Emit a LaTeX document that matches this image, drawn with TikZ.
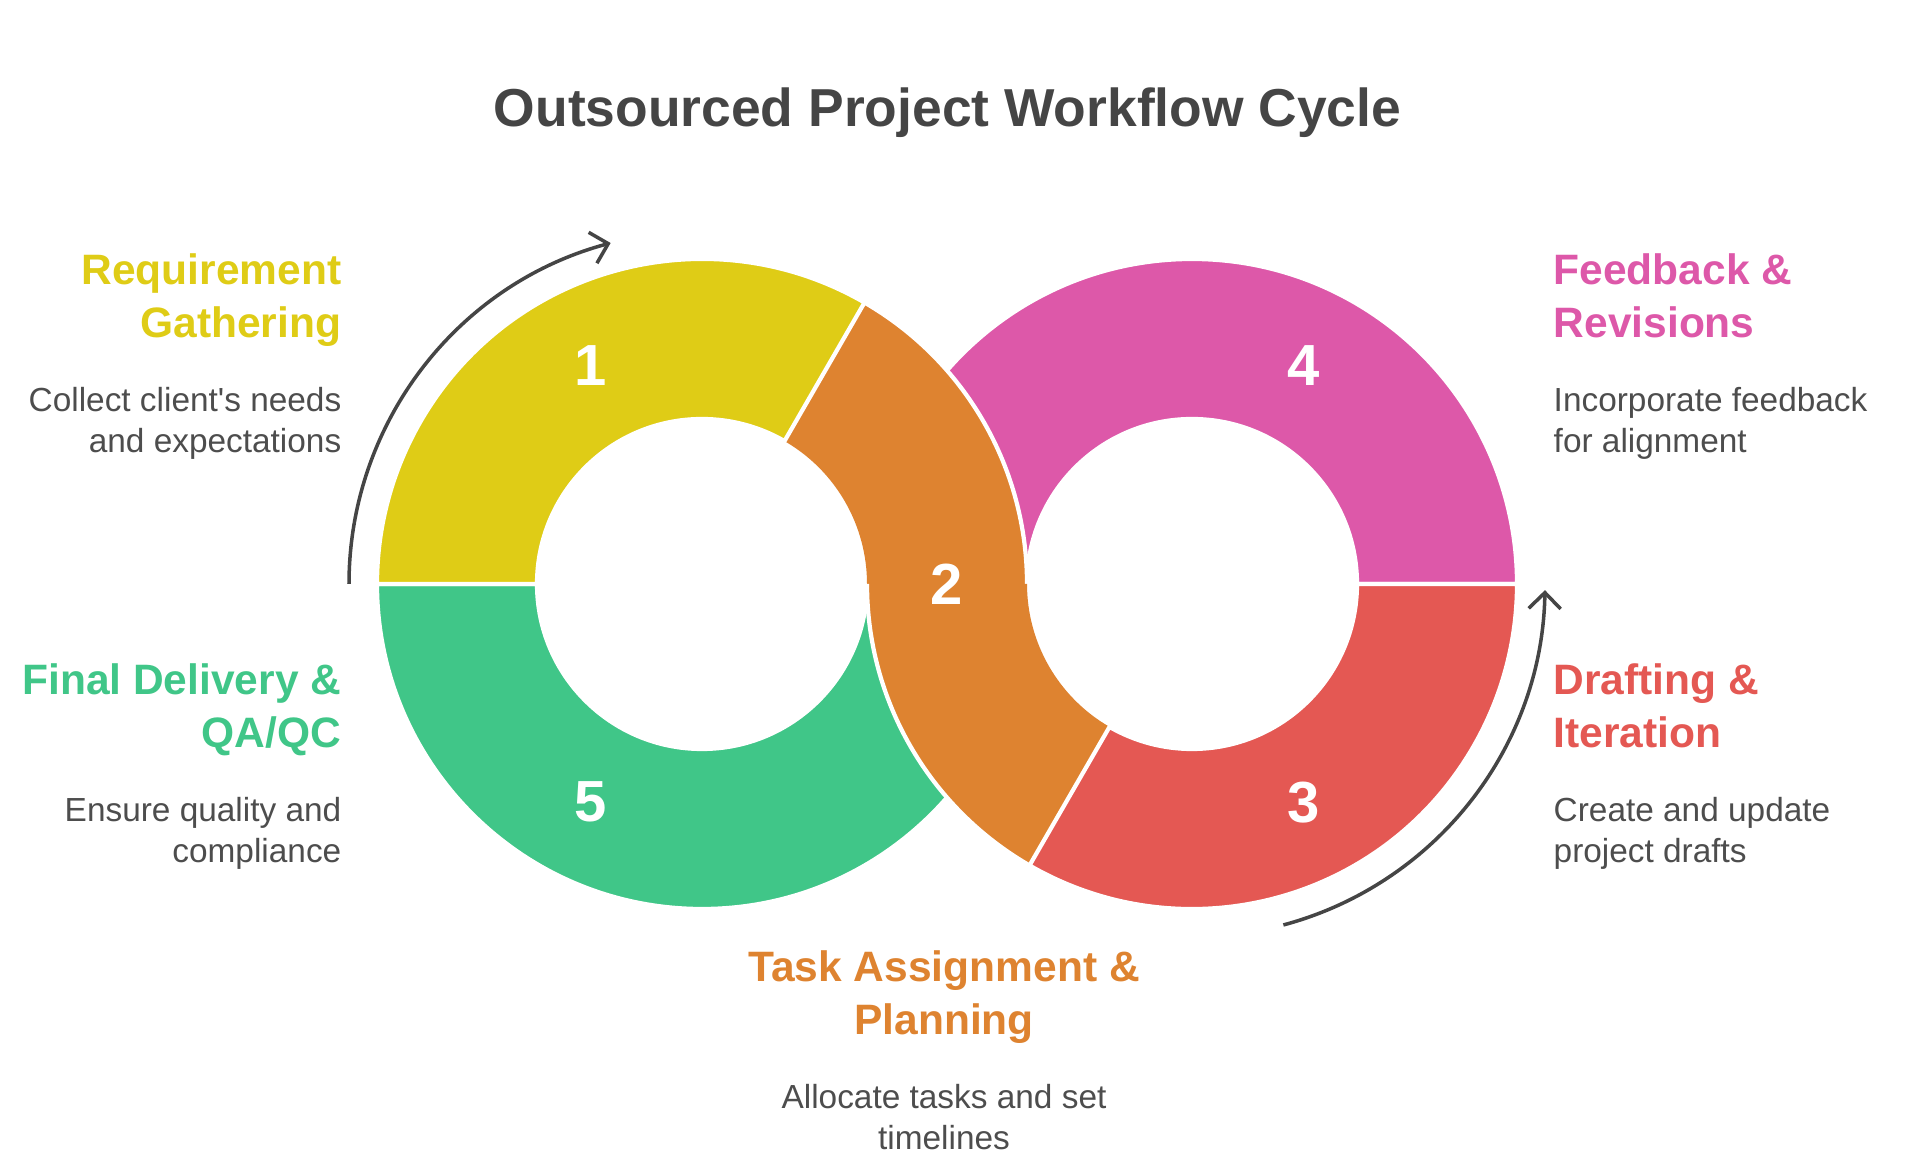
\documentclass[tikz,border=0pt]{standalone}
\usepackage{fontspec}
\setmainfont{Liberation Sans}
\usetikzlibrary{arrows.meta,calc}
\definecolor{segyellow}{HTML}{DFCC16}
\definecolor{segorange}{HTML}{DE8330}
\definecolor{segpink}{HTML}{DD58A9}
\definecolor{segred}{HTML}{E45853}
\definecolor{seggreen}{HTML}{40C688}
\definecolor{txtgray}{HTML}{4D4D4D}
\definecolor{titlegray}{HTML}{454545}
\begin{document}
\begin{tikzpicture}[%
% common options for the ring pieces:
seg/.style = {draw=white, line width=1.2pt, line join=round},
% common options for the texts:
head/.style = {inner sep=0, font=\fontsize{12.1}{15}\selectfont\bfseries},
desc/.style = {inner sep=0, text=txtgray, font=\fontsize{9.5}{11.7}\selectfont},
num/.style = {text=white, font=\fontsize{16.5}{18}\selectfont\bfseries},
% the two round arrows:
cyc/.style = {draw=titlegray, line width=1pt, -{Straight Barb[length=1.6mm,width=3.2mm]}}]
\useasboundingbox (0,0) rectangle (19.17,11.61);
\coordinate (lc) at (7.02,5.77);
\coordinate (rc) at (11.92,5.77);
% pink and green first, the orange band lies over them
\begin{scope}[shift={(rc)}]
\path[seg, fill=segpink] (0:3.25) arc[start angle=0, end angle=180, radius=3.25] -- (180:1.65) arc[start angle=180, end angle=0, radius=1.65] -- cycle;
\end{scope}
\begin{scope}[shift={(lc)}]
\path[seg, fill=seggreen] (180:3.25) arc[start angle=180, end angle=360, radius=3.25] -- (0:1.65) arc[start angle=360, end angle=180, radius=1.65] -- cycle;
\end{scope}
% orange band, two pieces
\begin{scope}[shift={(lc)}]
\fill[segorange] (0:1.65) -- (0:3.25) arc[start angle=0, end angle=60, radius=3.25] -- (60:1.65) arc[start angle=60, end angle=0, radius=1.65] -- cycle;
\draw[white, line width=1.2pt] (0:3.25) arc[start angle=0, end angle=60, radius=3.25];
\end{scope}
\begin{scope}[shift={(rc)}]
\fill[segorange] (180:1.65) -- (180:3.25) arc[start angle=180, end angle=240, radius=3.25] -- (240:1.65) arc[start angle=240, end angle=180, radius=1.65] -- cycle;
\draw[white, line width=1.2pt] (180:3.25) arc[start angle=180, end angle=240, radius=3.25];
\end{scope}
% yellow and red
\begin{scope}[shift={(lc)}]
\path[seg, fill=segyellow] (60:3.25) arc[start angle=60, end angle=180, radius=3.25] -- (180:1.65) arc[start angle=180, end angle=60, radius=1.65] -- cycle;
\end{scope}
\begin{scope}[shift={(rc)}]
\path[seg, fill=segred] (240:3.25) arc[start angle=240, end angle=360, radius=3.25] -- (0:1.65) arc[start angle=360, end angle=240, radius=1.65] -- cycle;
\end{scope}
% numbers
\node[num] (n1) at ([shift={(117:2.45)}]lc) {1};
\node[num] (n2) at ($(lc)!0.5!(rc)$) {2};
\node[num] (n3) at ([shift={(297:2.45)}]rc) {3};
\node[num] (n4) at ([shift={(63:2.45)}]rc) {4};
\node[num] (n5) at ([shift={(243:2.45)}]lc) {5};
% arrows
\coordinate (a1s) at ([shift={(180:3.53)}]lc);
\coordinate (a2s) at ([shift={(-75:3.53)}]rc);
\draw[cyc] (a1s) arc[start angle=180, end angle=105, radius=3.53];
\draw[cyc] (a2s) arc[start angle=-75, end angle=-1, radius=3.53];
% title
\node[inner sep=0, anchor=base, text=titlegray, font=\fontsize{15.2}{18}\selectfont\bfseries] (title) at (9.475,10.34) {Outsourced Project Workflow Cycle};
% left texts
\node[head, text=segyellow, anchor=base east] (A1) at (3.42,8.76) {Requirement};
\node[head, text=segyellow, anchor=base east] (A2) at (3.42,8.23) {Gathering};
\node[desc, anchor=base east] (A3) at (3.42,7.49) {Collect client\textquotesingle s needs};
\node[desc, anchor=base east] (A4) at (3.42,7.08) {and expectations};
\node[head, text=seggreen, anchor=base east] (B1) at (3.42,4.66) {Final Delivery \&};
\node[head, text=seggreen, anchor=base east] (B2) at (3.42,4.13) {QA/QC};
\node[desc, anchor=base east] (B3) at (3.42,3.39) {Ensure quality and};
\node[desc, anchor=base east] (B4) at (3.42,2.98) {compliance};
% right texts
\node[head, text=segpink, anchor=base west] (C1) at (15.53,8.76) {Feedback \&};
\node[head, text=segpink, anchor=base west] (C2) at (15.53,8.23) {Revisions};
\node[desc, anchor=base west] (C3) at (15.53,7.49) {Incorporate feedback};
\node[desc, anchor=base west] (C4) at (15.53,7.08) {for alignment};
\node[head, text=segred, anchor=base west] (D1) at (15.53,4.66) {Drafting \&};
\node[head, text=segred, anchor=base west] (D2) at (15.53,4.13) {Iteration};
\node[desc, anchor=base west] (D3) at (15.53,3.39) {Create and update};
\node[desc, anchor=base west] (D4) at (15.53,2.98) {project drafts};
% bottom texts
\node[head, text=segorange, anchor=base] (E1) at (9.44,1.79) {Task Assignment \&};
\node[head, text=segorange, anchor=base] (E2) at (9.44,1.26) {Planning};
\node[desc, anchor=base] (E3) at (9.44,0.52) {Allocate tasks and set};
\node[desc, anchor=base] (E4) at (9.44,0.11) {timelines};
\end{tikzpicture}
\end{document}
